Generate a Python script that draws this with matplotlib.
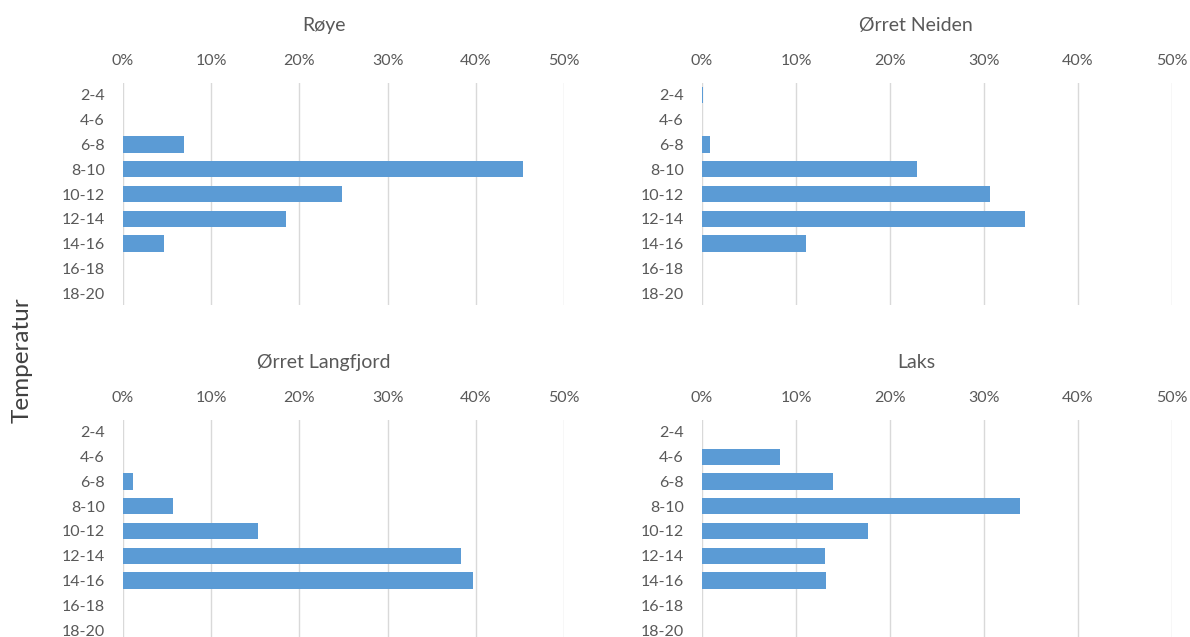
import numpy as np
import matplotlib.pyplot as plt
from matplotlib.ticker import PercentFormatter

plt.rcParams['font.family'] = ['Lato', 'DejaVu Sans']

temps = ['2-4', '4-6', '6-8', '8-10', '10-12', '12-14', '14-16', '16-18', '18-20']

# andel av tid i hvert temperaturintervall (prosent)
roye = [0, 0, 6.9, 45.3, 24.8, 18.5, 4.6, 0, 0]
orret_neiden = [0.15, 0, 0.8, 22.9, 30.6, 34.4, 11.1, 0, 0]
orret_langfjord = [0, 0, 1.1, 5.7, 15.3, 38.3, 39.7, 0, 0]
laks = [0, 8.3, 13.9, 33.8, 17.7, 13.1, 13.2, 0, 0]

titles = ['Røye', 'Ørret Neiden', 'Ørret Langfjord', 'Laks']
series = [roye, orret_neiden, orret_langfjord, laks]

W, H = 1190, 637
fig = plt.figure(figsize=(W / 100, H / 100), dpi=100)

# akser i piksler: (venstre, topp, bredde)
boxes = [(123, 82.6, 441), (702, 82.6, 470), (123, 419.6, 441), (702, 419.6, 470)]
ax_h = 222.8

blue = '#5B9BD5'
txt = '#595959'
grid = '#D9D9D9'

y = np.arange(len(temps))
for (x0, top, w), title, vals in zip(boxes, titles, series):
    ax = fig.add_axes([x0 / W, (H - top - ax_h) / H, w / W, ax_h / H])
    ax.barh(y, np.array(vals) / 100, height=0.66, color=blue, zorder=3)
    ax.set_xlim(0, 0.5)
    ax.set_ylim(len(temps) - 0.5, -0.5)
    ax.set_yticks(y)
    ax.set_yticklabels(temps)
    ax.set_xticks(np.arange(0, 0.51, 0.1))
    ax.xaxis.set_major_formatter(PercentFormatter(1.0, decimals=0))
    ax.xaxis.tick_top()
    ax.tick_params(axis='x', length=0, pad=10.5, labelsize=11.5, colors=txt)
    ax.tick_params(axis='y', length=0, pad=13, labelsize=11.5, colors=txt)
    ax.grid(axis='x', color=grid, linewidth=1, zorder=0)
    for s in ax.spines.values():
        s.set_visible(False)
    # tittelen sentreres over hele diagramfeltet, inkl. kategorietikettene
    ax.set_title(title, fontsize=14, color=txt, pad=37, x=0.455)

fig.text(22 / W, 1 - 360 / H, 'Temperatur', rotation=90, fontsize=17.5,
         color='#404040', ha='center', va='center')

fig.savefig('out.png', dpi=100)
